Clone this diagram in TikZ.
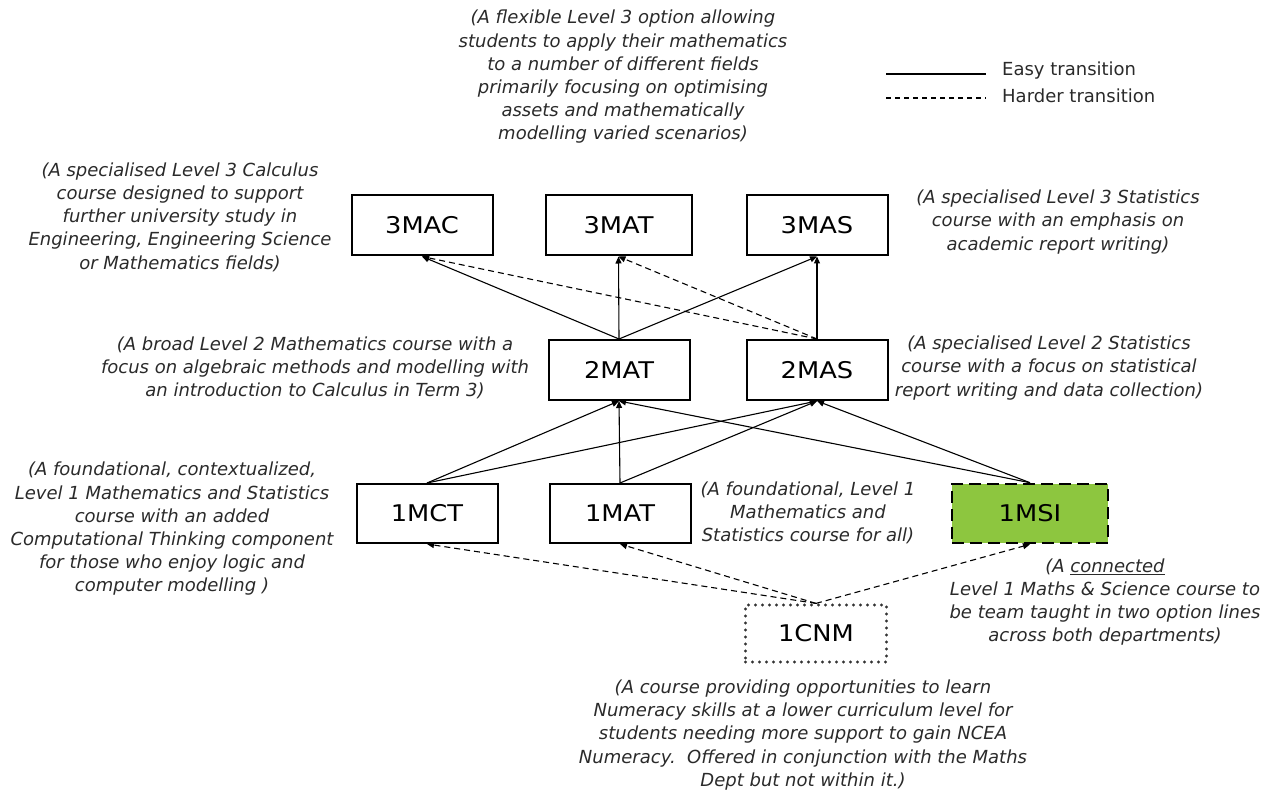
\documentclass[tikz,border=0pt]{standalone}
\usepackage{fontspec}
\setmainfont{DejaVu Sans}
\newfontfamily\boxfont[FakeStretch=1.12]{DejaVu Sans}
\usetikzlibrary{arrows.meta}
\definecolor{txt}{HTML}{2A2A2A}
\definecolor{msigreen}{HTML}{8DC63F}
\begin{document}
\begin{tikzpicture}[x=1pt,y=-1pt,
  course/.style={draw=black,line width=2pt,minimum width=141pt,minimum height=60pt,inner sep=0pt,font=\boxfont\fontsize{23}{26}\selectfont},
  desc/.style={align=center,text=txt,inner sep=0pt,font=\itshape\fontsize{18}{23.2}\selectfont},
  easy/.style={line width=1.1pt,-{Triangle[length=7pt,width=6pt]}},
  hard/.style={line width=1.1pt,dash pattern=on 6pt off 4pt,-{Triangle[length=7pt,width=6pt]}}]
\useasboundingbox (0,0) rectangle (1278,791);
% course boxes
\node[course] (m3mac) at (422,225.5) {3MAC};
\node[course,minimum width=146pt] (m3mat) at (618.5,225.5) {3MAT};
\node[course] (m3mas) at (817,225.5) {3MAS};
\node[course] (m2mat) at (619,370) {2MAT};
\node[course] (m2mas) at (817,370) {2MAS};
\node[course,minimum height=59pt] (m1mct) at (427,513.5) {1MCT};
\node[course,minimum height=59pt] (m1mat) at (620,513.5) {1MAT};
\node[course,minimum height=59pt,minimum width=156pt,fill=msigreen,line width=2.6pt,dash pattern=on 12pt off 6pt] (m1msi) at (1030,513.5) {1MSI};
\node[course,minimum height=57pt,draw=black!80,line cap=round,dash pattern=on 0pt off 7pt,line width=3.2pt] (m1cnm) at (816,633.5) {1CNM};
% level 2 -> level 3
\draw[easy] (m2mat.north) -- (m3mac.south);
\draw[easy] (m2mat.north) -- (m3mat.south);
\draw[easy] (m2mat.north) -- (m3mas.south);
\draw[easy] (m2mas.north) -- (m3mas.south);
\draw[hard] (m2mas.north) -- (m3mac.south);
\draw[hard] (m2mas.north) -- (m3mat.south);
% level 1 -> level 2
\draw[easy] (m1mct.north) -- (m2mat.south);
\draw[easy] (m1mct.north) -- (m2mas.south);
\draw[easy] (m1mat.north) -- (m2mat.south);
\draw[easy] (m1mat.north) -- (m2mas.south);
\draw[easy] (m1msi.north) -- (m2mat.south);
\draw[easy] (m1msi.north) -- (m2mas.south);
% 1CNM -> level 1
\draw[hard] (m1cnm.north) -- (m1mct.south);
\draw[hard] (m1cnm.north) -- (m1mat.south);
\draw[hard] (m1cnm.north) -- (m1msi.south);
% descriptions
\node[desc] (d3mat) at (623,77) {(A flexible Level 3 option allowing\\students to apply their mathematics\\to a number of different fields\\primarily focusing on optimising\\assets and mathematically\\modelling varied scenarios)};
\node[desc] (d3mac) at (180,217) {(A specialised Level 3 Calculus\\course designed to support\\further university study in\\Engineering, Engineering Science\\or Mathematics fields)};
\node[desc] (d3mas) at (1058,222) {(A specialised Level 3 Statistics\\course with an emphasis on\\academic report writing)};
\node[desc] (d2mat) at (315,368) {(A broad Level 2 Mathematics course with a\\focus on algebraic methods and modelling with\\an introduction to Calculus in Term 3)};
\node[desc] (d2mas) at (1049,368) {(A specialised Level 2 Statistics\\course with a focus on statistical\\report writing and data collection)};
\node[desc] (d1mct) at (172,529) {(A foundational, contextualized,\\Level 1 Mathematics and Statistics\\course with an added\\Computational Thinking component\\for those who enjoy logic and\\computer modelling )};
\node[desc] (d1mat) at (808,513) {(A foundational, Level 1\\Mathematics and\\Statistics course for all)};
\node[desc] (d1msi) at (1105,602) {(A \underline{connected}\\Level 1 Maths \& Science course to\\be team taught in two option lines\\across both departments)};
\node[desc] (d1cnm) at (803,735) {(A course providing opportunities to learn\\Numeracy skills at a lower curriculum level for\\students needing more support to gain NCEA\\Numeracy.\ \ Offered in conjunction with the Maths\\Dept but not within it.)};
% legend
\coordinate (le1) at (886,74);
\coordinate (le2) at (986,74);
\coordinate (lh1) at (886,98);
\coordinate (lh2) at (986,98);
\draw[line width=1.1pt] (le1) -- (le2);
\draw[line width=1.1pt,dash pattern=on 5pt off 4pt] (lh1) -- (lh2);
\node[anchor=west,text=txt,inner sep=0pt,font=\fontsize{18}{20}\selectfont] (leasy) at (1002,71) {Easy transition};
\node[anchor=west,text=txt,inner sep=0pt,font=\fontsize{18}{20}\selectfont] (lhard) at (1002,96) {Harder transition};
\end{tikzpicture}
\end{document}
